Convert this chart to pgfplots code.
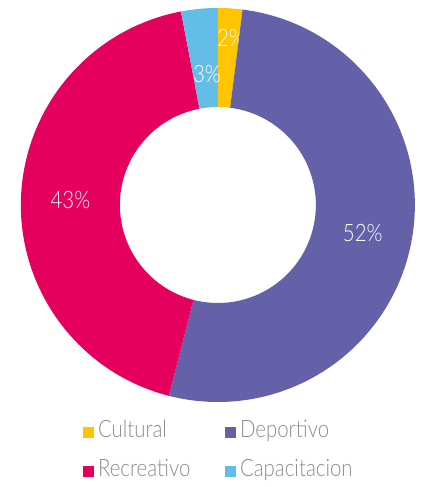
\documentclass[border=0pt]{standalone}
\usepackage{fontspec}
\setmainfont{Lato Light}[FakeStretch=0.85]
\usepackage{pgfplots}
\usepackage{pgfplotstable}
\pgfplotsset{compat=1.18}
\definecolor{cYel}{HTML}{FFC600}
\definecolor{cPur}{HTML}{6561A8}
\definecolor{cRed}{HTML}{E5005E}
\definecolor{cBlu}{HTML}{63BDE6}
\definecolor{cTxt}{HTML}{8C8C8C}
\pgfplotstableread{
name value col labr laboff
Cultural 2 cYel 167 -0.9
Deportivo 52 cPur 147.5 0
Recreativo 43 cRed 147.5 0
Capacitacion 3 cBlu 131 -0.6
}\piedata
\begin{document}
\begin{tikzpicture}
\begin{axis}[x=1bp,y=1bp,xmin=0,xmax=422,ymin=0,ymax=487,hide axis,clip=false,scale only axis]
\path (axis cs:0,0) rectangle (axis cs:422,487);
\def\cum{0}
\pgfplotsforeachungrouped \i in {0,...,3}{%
  \pgfplotstablegetelem{\i}{value}\of\piedata \let\segval\pgfplotsretval
  \pgfplotstablegetelem{\i}{col}\of\piedata \let\segcol\pgfplotsretval
  \pgfplotstablegetelem{\i}{labr}\of\piedata \let\seglr\pgfplotsretval
  \pgfplotstablegetelem{\i}{laboff}\of\piedata \let\segoff\pgfplotsretval
  \pgfmathsetmacro\angA{90-3.6*\cum}
  \pgfmathsetmacro\angB{90-3.6*(\cum+\segval)}
  \pgfmathsetmacro\angM{(\angA+\angB)/2+\segoff}
  \pgfmathsetmacro\labx{213+\seglr*cos(\angM)}
  \pgfmathsetmacro\laby{282+\seglr*sin(\angM)}
  \pgfmathsetmacro\cum{\cum+\segval}
  \edef\temp{\noexpand\fill[\segcol] ([shift={(axis cs:213,282)}]\angA:197bp) arc[start angle=\angA, end angle=\angB, radius=197bp] -- ([shift={(axis cs:213,282)}]\angB:98bp) arc[start angle=\angB, end angle=\angA, radius=98bp] -- cycle;
  \noexpand\node[text=white, inner sep=0pt, font=\noexpand\fontsize{24bp}{28bp}\noexpand\selectfont] at (axis cs:\labx,\laby) {\segval\noexpand\%};}%
  \temp
}
\fill[cYel] (axis cs:78,49) rectangle (axis cs:89,60);
\fill[cPur] (axis cs:220,49) rectangle (axis cs:231,60);
\fill[cRed] (axis cs:78,10) rectangle (axis cs:89,21);
\fill[cBlu] (axis cs:220,10) rectangle (axis cs:231,21);
\begin{scope}[every node/.style={anchor=base west, inner sep=0pt, text=cTxt, font=\fontsize{24bp}{28bp}\selectfont}]
\node at (axis cs:93,49) {Cultural};
\node at (axis cs:235,49) {Deportivo};
\node at (axis cs:93,10) {Recreativo};
\node at (axis cs:235,10) {Capacitacion};
\end{scope}
\end{axis}
\end{tikzpicture}
\end{document}
